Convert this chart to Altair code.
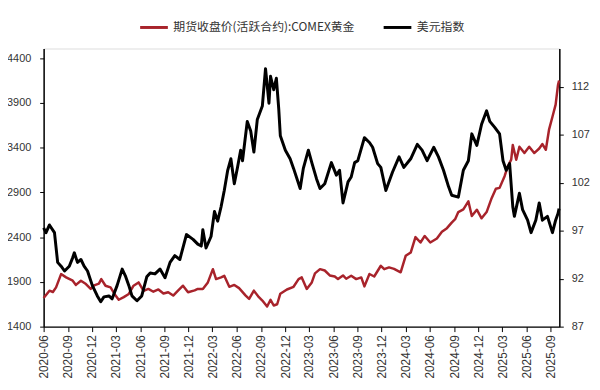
import altair as alt
import pandas as pd

GOLD_LABEL = "期货收盘价(活跃合约):COMEX黄金"
USD_LABEL = "美元指数"
RED = "#A8232B"
BLACK = "#000000"

gold_dates = [
    "2020-06-01","2020-06-23","2020-07-06","2020-07-18","2020-08-06","2020-08-25","2020-09-19","2020-10-01","2020-10-20","2020-11-08",
    "2020-11-26","2020-12-09","2020-12-27","2021-01-05","2021-01-21","2021-02-09","2021-02-28","2021-03-12","2021-03-31","2021-04-19",
    "2021-05-07","2021-05-26","2021-06-14","2021-07-02","2021-07-21","2021-08-09","2021-08-28","2021-09-15","2021-10-04","2021-10-23",
    "2021-11-10","2021-11-29","2021-12-24","2022-01-05","2022-01-24","2022-02-12","2022-03-03","2022-03-15","2022-04-03","2022-04-15",
    "2022-05-04","2022-05-23","2022-06-10","2022-07-05","2022-07-18","2022-08-05","2022-08-24","2022-09-06","2022-09-24","2022-10-07",
    "2022-10-19","2022-11-01","2022-11-13","2022-12-08","2023-01-02","2023-01-21","2023-02-02","2023-02-21","2023-03-12","2023-03-24",
    "2023-04-12","2023-04-30","2023-05-19","2023-06-07","2023-06-19","2023-07-08","2023-07-20","2023-08-08","2023-08-27","2023-09-15",
    "2023-09-27","2023-10-16","2023-11-03","2023-11-28","2023-12-11","2023-12-29","2024-01-17","2024-02-11","2024-03-01","2024-03-20",
    "2024-04-07","2024-04-26","2024-05-12","2024-06-02","2024-06-27","2024-07-16","2024-08-04","2024-08-22","2024-09-04","2024-09-16",
    "2024-10-05","2024-10-24","2024-11-06","2024-11-25","2024-12-13","2025-01-01","2025-01-20","2025-02-05","2025-02-19","2025-03-10",
    "2025-03-22","2025-04-04","2025-04-10","2025-04-23","2025-05-05","2025-05-24","2025-06-11","2025-06-30","2025-07-19","2025-07-31",
    "2025-08-13","2025-08-25","2025-09-07","2025-09-19","2025-09-28","2025-10-02",
]
gold_values = [
    1720,1802,1787,1839,1987,1950,1913,1866,1913,1876,
    1821,1860,1880,1931,1857,1839,1747,1700,1730,1765,
    1857,1894,1800,1821,1790,1815,1770,1784,1747,1805,
    1857,1784,1805,1821,1821,1894,2042,1931,1950,1968,
    1845,1866,1830,1747,1710,1802,1729,1691,1625,1700,
    1636,1650,1768,1815,1845,1931,1950,1821,1894,1995,
    2042,2027,1972,1960,1931,1972,1935,1969,1931,1950,
    1850,1988,1960,2080,2042,2062,2045,2007,2191,2228,
    2400,2340,2413,2340,2385,2460,2500,2562,2600,2680,
    2710,2800,2635,2706,2610,2680,2835,2940,2950,3080,
    3190,3265,3430,3265,3410,3339,3410,3339,3390,3440,
    3376,3600,3745,3880,4100,4150,
]

usd_dates = [
    "2020-06-01","2020-06-10","2020-06-23","2020-07-12","2020-07-24","2020-08-06","2020-08-19","2020-09-06","2020-09-19","2020-09-25",
    "2020-10-07","2020-10-20","2020-11-01","2020-11-14","2020-12-02","2020-12-21","2021-01-03","2021-01-15","2021-02-03","2021-02-15",
    "2021-03-06","2021-03-25","2021-04-06","2021-04-19","2021-05-01","2021-05-20","2021-06-07","2021-06-26","2021-07-09","2021-07-27",
    "2021-08-15","2021-09-03","2021-09-22","2021-10-10","2021-10-29","2021-11-23","2021-12-18","2022-01-05","2022-01-18","2022-01-24",
    "2022-02-05","2022-02-24","2022-03-09","2022-03-21","2022-04-03","2022-04-15","2022-04-28","2022-05-10","2022-05-23","2022-06-04",
    "2022-06-16","2022-06-23","2022-07-11","2022-07-24","2022-08-05","2022-08-18","2022-09-06","2022-09-18","2022-10-01","2022-10-07",
    "2022-10-19","2022-10-29","2022-11-07","2022-11-13","2022-12-02","2022-12-20","2023-01-02","2023-01-27","2023-02-08","2023-02-27",
    "2023-03-12","2023-03-30","2023-04-12","2023-04-30","2023-05-25","2023-06-13","2023-06-25","2023-07-08","2023-07-27","2023-08-08",
    "2023-08-21","2023-09-02","2023-09-27","2023-10-16","2023-10-28","2023-11-16","2023-11-28","2023-12-17","2024-01-11","2024-02-05",
    "2024-02-23","2024-03-20","2024-04-14","2024-05-02","2024-05-21","2024-06-15","2024-07-03","2024-07-22","2024-08-10","2024-08-22",
    "2024-09-16","2024-10-05","2024-10-24","2024-11-06","2024-11-25","2024-12-13","2025-01-01","2025-01-13","2025-01-31","2025-02-19",
    "2025-03-04","2025-03-16","2025-03-29","2025-04-10","2025-04-16","2025-05-05","2025-05-17","2025-06-05","2025-06-18","2025-07-06",
    "2025-07-19","2025-07-31","2025-08-19","2025-09-07","2025-09-19","2025-09-28","2025-10-02",
]
usd_values = [
    97.3,96.8,97.6,96.8,93.7,93.3,92.8,93.3,94.2,94.7,
    93.7,94.0,93.3,92.8,91.3,90.2,89.6,90.1,90.2,89.9,
    91.3,93.0,92.3,91.3,90.2,89.7,90.2,92.2,92.6,92.5,
    93.0,92.1,93.7,94.4,94.0,96.6,96.1,95.6,95.4,97.1,
    95.2,96.4,99.0,98.0,99.5,101.2,103.3,104.5,101.9,103.6,
    105.4,104.3,108.4,107.4,105.2,108.6,110.0,113.9,110.3,113.1,
    111.7,112.9,109.7,106.9,105.4,104.5,103.5,101.4,103.5,105.4,
    104.1,102.4,101.4,101.9,104.1,102.8,103.3,99.9,102.1,102.6,
    104.1,104.3,106.7,106.2,105.7,104.0,103.6,101.2,103.1,104.7,
    103.6,104.5,106.0,105.4,104.3,105.7,104.7,103.3,101.6,100.7,
    100.5,103.3,104.3,107.1,105.9,108.1,109.5,108.4,107.8,107.1,
    104.3,103.3,104.0,99.5,98.5,100.9,99.2,98.1,96.8,98.1,
    99.9,98.1,98.5,96.8,98.1,98.8,99.3,
]

tick_months = ["2020-06","2020-09","2020-12","2021-03","2021-06","2021-09","2021-12","2022-03","2022-06","2022-09",
               "2022-12","2023-03","2023-06","2023-09","2023-12","2024-03","2024-06","2024-09","2024-12","2025-03",
               "2025-06","2025-09"]
left_ticks = [1400, 1900, 2400, 2900, 3400, 3900, 4400]
right_ticks = [87, 92, 97, 102, 107, 112]

n1 = min(len(gold_dates), len(gold_values))
n2 = min(len(usd_dates), len(usd_values))
gold_df = pd.DataFrame({"date": gold_dates[:n1], "value": gold_values[:n1], "series": GOLD_LABEL})
usd_df = pd.DataFrame({"date": usd_dates[:n2], "value": usd_values[:n2], "series": USD_LABEL})


def dt(s):
    parts = s.split("-")
    d = int(parts[2]) if len(parts) == 3 else 1
    return alt.DateTime(year=int(parts[0]), month=int(parts[1]), date=d, utc=True)


x_enc = alt.X(
    "date:T",
    scale=alt.Scale(type="utc", domain=[dt("2020-06-01"), dt("2025-10-03")]),
    axis=alt.Axis(
        values=[dt(m) for m in tick_months],
        labelExpr="utcFormat(datum.value, '%Y-%m')",
        labelAngle=270,
        title=None,
        grid=False,
        domainColor=BLACK,
        domainWidth=1.5,
        tickColor=BLACK,
        tickSize=5,
        labelFont="Liberation Sans",
        labelFontSize=12,
        labelColor="#333333",
        labelPadding=3,
    ),
)

color_scale = alt.Scale(domain=[GOLD_LABEL, USD_LABEL], range=[RED, BLACK])
legend = alt.Legend(
    orient="none",
    legendX=96,
    legendY=-37,
    direction="horizontal",
    title=None,
    symbolType="stroke",
    symbolSize=784,
    symbolStrokeWidth=3,
    labelFont="Noto Sans CJK SC",
    labelFontSize=12,
    labelColor="#333333",
    labelOffset=4,
    columnPadding=22,
    labelLimit=400,
)

gold = alt.Chart(gold_df).mark_line(strokeWidth=2.5, strokeJoin="round").encode(
    x=x_enc,
    y=alt.Y(
        "value:Q",
        scale=alt.Scale(domain=[1400, 4507], nice=False, zero=False),
        axis=alt.Axis(
            orient="left", values=left_ticks, format="d", title=None, grid=False,
            domainColor=BLACK, domainWidth=1.5, tickColor=BLACK, tickSize=4,
            labelFont="Liberation Sans", labelFontSize=11, labelColor="#333333", labelPadding=9,
        ),
    ),
    color=alt.Color("series:N", scale=color_scale, legend=legend),
)

usd = alt.Chart(usd_df).mark_line(strokeWidth=3, strokeJoin="round").encode(
    x=x_enc,
    y=alt.Y(
        "value:Q",
        scale=alt.Scale(domain=[87, 116], nice=False, zero=False),
        axis=alt.Axis(
            orient="right", values=right_ticks, format="d", title=None, grid=False,
            domainColor=BLACK, domainWidth=1.5, tickColor=BLACK, tickSize=4,
            labelFont="Liberation Sans", labelFontSize=11, labelColor="#333333", labelPadding=8,
        ),
    ),
    color=alt.Color("series:N", scale=color_scale, legend=legend),
)

chart = (
    alt.layer(gold, usd)
    .resolve_scale(y="independent")
    .properties(
        width=521,
        height=281,
        autosize="none",
        padding={"left": 36, "top": 39, "right": 33, "bottom": 52},
    )
    .configure_view(stroke=None)
    .configure(background="white")
)

chart.save("out.html", embed_options={"renderer": "svg", "actions": False})
